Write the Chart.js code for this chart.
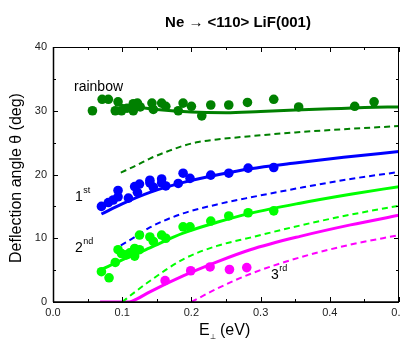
<!DOCTYPE html>
<html>
<head>
<meta charset="utf-8">
<script src="https://cdn.jsdelivr.net/npm/chart.js@4"></script>
<style>
  html, body { margin: 0; padding: 0; background: #fff; overflow: hidden; }
  #wrap { width: 420px; height: 340px; }
</style>
</head>
<body>
<div id="wrap"><canvas id="chart" width="420" height="340"></canvas></div>
<script>
// --- data ---
const rainbowPtsX = [0.057, 0.071, 0.080, 0.094, 0.090, 0.099, 0.107, 0.116, 0.116, 0.122, 0.126, 0.143, 0.145, 0.157, 0.163, 0.181, 0.188, 0.200, 0.215, 0.228, 0.254, 0.281, 0.319, 0.355, 0.436, 0.464];
const rainbowPtsY = [30.0, 31.8, 31.8, 31.4, 30.0, 30.0, 30.4, 31.1, 30.0, 31.2, 30.6, 31.2, 30.2, 31.2, 30.7, 30.0, 31.2, 30.7, 29.2, 30.9, 30.9, 31.3, 31.8, 30.6, 30.7, 31.4];

const firstPtsX = [0.070, 0.080, 0.087, 0.094, 0.094, 0.109, 0.118, 0.125, 0.122, 0.140, 0.140, 0.145, 0.157, 0.157, 0.163, 0.181, 0.188, 0.198, 0.228, 0.254, 0.282, 0.319];
const firstPtsY = [15.0, 15.6, 16.0, 16.5, 17.5, 16.3, 18.1, 18.5, 17.2, 18.7, 19.1, 18.0, 18.7, 19.3, 18.2, 18.6, 20.2, 19.4, 19.9, 20.2, 21.0, 21.1];

const secondPtsX = [0.070, 0.081, 0.090, 0.094, 0.099, 0.106, 0.111, 0.118, 0.118, 0.125, 0.125, 0.140, 0.145, 0.157, 0.163, 0.188, 0.198, 0.228, 0.254, 0.282, 0.319];
const secondPtsY = [4.75, 3.8, 6.2, 8.2, 7.6, 7.4, 7.7, 8.4, 7.2, 10.5, 8.2, 10.2, 9.5, 10.5, 10.0, 11.8, 11.8, 12.7, 13.5, 14.0, 14.3];

const thirdPtsX = [0.162, 0.199, 0.227, 0.255, 0.280];
const thirdPtsY = [3.35, 4.9, 5.5, 5.1, 5.4];

// calculated curves (solid) and their dashed partners
const rainbowFitX = [0.095, 0.12, 0.15, 0.2, 0.25, 0.3, 0.35, 0.4, 0.45, 0.5];
const rainbowFitY = [30.9, 30.6, 30.2, 29.8, 29.7, 29.9, 30.1, 30.3, 30.5, 30.6];
const rainbowDashX = [0.098, 0.12, 0.14, 0.165, 0.188, 0.21, 0.237, 0.285, 0.35, 0.42, 0.5];
const rainbowDashY = [20.3, 21.4, 22.5, 23.6, 24.5, 25.1, 25.5, 26.0, 26.6, 27.1, 27.6];

const firstFitX = [0.07, 0.1, 0.14, 0.19, 0.24, 0.285, 0.35, 0.42, 0.5];
const firstFitY = [13.8, 15.4, 17.2, 18.8, 20.0, 20.9, 21.8, 22.7, 23.6];
const firstDashX = [0.098, 0.12, 0.14, 0.188, 0.237, 0.285, 0.357, 0.43, 0.5];
const firstDashY = [8.9, 10.3, 11.7, 13.9, 15.3, 16.4, 17.9, 19.3, 20.4];

const secondFitX = [0.07, 0.1, 0.14, 0.188, 0.237, 0.285, 0.357, 0.43, 0.5];
const secondFitY = [5.1, 6.6, 8.5, 10.8, 12.5, 13.9, 15.5, 16.9, 18.1];
const secondDashX = [0.1, 0.12, 0.14, 0.188, 0.237, 0.285, 0.357, 0.43, 0.5];
const secondDashY = [0, 1.7, 3.3, 6.7, 8.8, 10.1, 12.0, 13.7, 15.1];

const thirdFitX = [0.068, 0.11, 0.12, 0.14, 0.188, 0.237, 0.285, 0.357, 0.43, 0.5];
const thirdFitY = [0, 0, 0.4, 1.6, 4.1, 6.3, 8.2, 10.3, 12.1, 13.6];
const thirdDashX = [0.2, 0.237, 0.285, 0.357, 0.43, 0.5];
const thirdDashY = [0, 2.1, 4.4, 7.0, 9.0, 10.5];

const xTicks = [0, 0.1, 0.2, 0.3, 0.4, 0.5];
const yTicks = [0, 10, 20, 30, 40];

const DARKGREEN = "#008000", BLUE = "#0000ff", LIME = "#00ff00", MAGENTA = "#ff00ff";
const FONT = "'Liberation Sans', Arial, sans-serif";

const pts = (xs, ys) => xs.map((x, i) => ({ x: x, y: ys[i] }));

function dots(xs, ys, color) {
  return {
    data: pts(xs, ys), showLine: false, order: 0,
    pointRadius: 4.8, pointBackgroundColor: color, pointBorderColor: color, pointBorderWidth: 0
  };
}
function curve(xs, ys, color, dashed) {
  return {
    data: pts(xs, ys), showLine: true, order: 1, pointRadius: 0,
    borderColor: color, borderWidth: dashed ? 2 : 3,
    borderDash: dashed ? [6, 4] : [], cubicInterpolationMode: "monotone", fill: false
  };
}

// --- frame, inward ticks, title and labels ---
const decor = {
  id: "decor",
  afterDatasetsDraw(chart) {
    const c = chart.ctx, a = chart.chartArea;
    const xs = chart.scales.x, ys = chart.scales.y;
    c.save();
    c.strokeStyle = "#000";
    c.lineWidth = 1;
    c.strokeRect(a.left + 0.5, a.top + 0.5, a.right - a.left - 1, a.bottom - a.top);
    c.lineWidth = 1.5;
    c.beginPath();
    c.moveTo(a.left, a.bottom); c.lineTo(a.right, a.bottom);
    c.moveTo(a.left + 0.5, a.top); c.lineTo(a.left + 0.5, a.bottom);
    c.stroke();
    c.lineWidth = 1;
    c.beginPath();
    for (let i = 0; i <= 10; i++) {
      const px = Math.round(xs.getPixelForValue(i * 0.05)) + 0.5;
      const len = i % 2 === 0 ? 5 : 3;
      c.moveTo(px, a.bottom); c.lineTo(px, a.bottom - len);
      c.moveTo(px, a.top); c.lineTo(px, a.top + len);
    }
    for (let i = 0; i <= 8; i++) {
      const py = Math.round(ys.getPixelForValue(i * 5)) + 0.5;
      const len = i % 2 === 0 ? 5 : 3;
      c.moveTo(a.left, py); c.lineTo(a.left + len, py);
      c.moveTo(a.right, py); c.lineTo(a.right - len, py);
    }
    c.stroke();

    c.fillStyle = "#000";
    c.textBaseline = "middle";
    // title
    c.textAlign = "center";
    c.font = "bold 15px " + FONT;
    c.fillText("Ne \u2192 <110> LiF(001)", 238, 23);

    // x axis title E⊥ (eV)
    c.textAlign = "left";
    c.font = "16px " + FONT;
    c.fillText("E", 199, 331);
    c.font = "7px " + FONT;
    c.fillText("\u22a5", 210, 337);
    c.font = "16px " + FONT;
    c.fillText("(eV)", 220, 331);

    // y axis title
    c.save();
    c.translate(17, 178);
    c.rotate(-Math.PI / 2);
    c.textAlign = "center";
    c.font = "16px " + FONT;
    c.fillText("Deflection angle \u03b8 (deg)", 0, 0);
    c.restore();

    // curve labels
    c.textAlign = "left";
    c.font = "14px " + FONT;
    c.fillText("rainbow", 74, 87);
    const ordLabel = (num, sup, x, y) => {
      c.font = "14px " + FONT;
      c.fillText(num, x, y);
      const w = c.measureText(num).width;
      c.font = "9px " + FONT;
      c.fillText(sup, x + w + 0.5, y - 6);
    };
    ordLabel("1", "st", 75, 197);
    ordLabel("2", "nd", 75, 248);
    ordLabel("3", "rd", 271, 275);
    c.restore();
  }
};

new Chart(document.getElementById("chart"), {
  type: "scatter",
  data: {
    datasets: [
      dots(rainbowPtsX, rainbowPtsY, DARKGREEN),
      dots(firstPtsX, firstPtsY, BLUE),
      dots(secondPtsX, secondPtsY, LIME),
      dots(thirdPtsX, thirdPtsY, MAGENTA),
      curve(rainbowFitX, rainbowFitY, DARKGREEN, false),
      curve(rainbowDashX, rainbowDashY, DARKGREEN, true),
      curve(firstFitX, firstFitY, BLUE, false),
      curve(firstDashX, firstDashY, BLUE, true),
      curve(secondFitX, secondFitY, LIME, false),
      curve(secondDashX, secondDashY, LIME, true),
      curve(thirdFitX, thirdFitY, MAGENTA, false),
      curve(thirdDashX, thirdDashY, MAGENTA, true)
    ]
  },
  options: {
    responsive: false,
    animation: false,
    devicePixelRatio: 1,
    layout: { padding: { top: 47, right: 21, left: 0, bottom: 0 } },
    plugins: { legend: { display: false }, tooltip: { enabled: false } },
    scales: {
      x: {
        type: "linear", min: 0, max: 0.5,
        afterFit: s => { s.height = 38; },
        afterBuildTicks: s => { s.ticks = xTicks.map(v => ({ value: v })); },
        grid: { display: false, drawTicks: false },
        border: { display: false },
        ticks: { padding: 4, color: "#222", font: { size: 11, family: FONT }, maxRotation: 0,
                 callback: v => v.toFixed(1) }
      },
      y: {
        type: "linear", min: 0, max: 40,
        afterFit: s => { s.width = 53; },
        afterBuildTicks: s => { s.ticks = yTicks.map(v => ({ value: v })); },
        grid: { display: false, drawTicks: false },
        border: { display: false },
        ticks: { padding: 6, color: "#222", font: { size: 11, family: FONT } }
      }
    }
  },
  plugins: [decor]
});
</script>
</body>
</html>
